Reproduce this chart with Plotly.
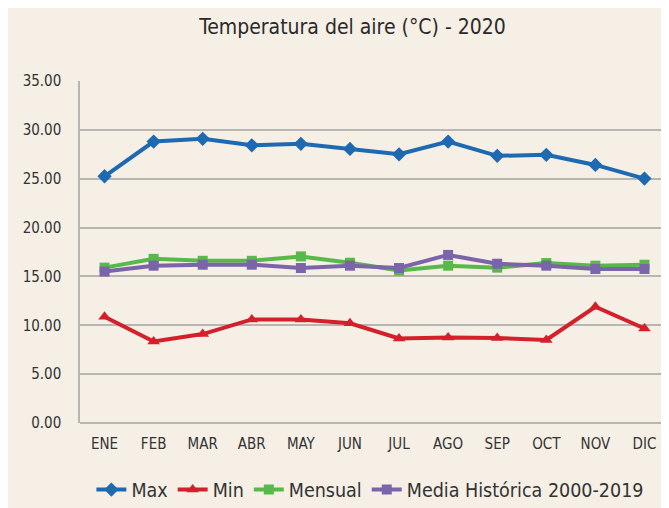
import plotly.graph_objects as go

MESES = ["ENE", "FEB", "MAR", "ABR", "MAY", "JUN", "JUL", "AGO", "SEP", "OCT", "NOV", "DIC"]

t_max = [25.25, 28.8, 29.08, 28.42, 28.57, 28.05, 27.5, 28.8, 27.34, 27.44, 26.41, 25.01]
t_min = [10.87, 8.34, 9.1, 10.6, 10.6, 10.2, 8.65, 8.75, 8.7, 8.5, 11.9, 9.67]
t_mensual = [15.9, 16.8, 16.6, 16.6, 17.05, 16.4, 15.6, 16.1, 15.9, 16.37, 16.1, 16.2]
t_historica = [15.5, 16.1, 16.2, 16.2, 15.86, 16.1, 15.86, 17.2, 16.3, 16.1, 15.76, 15.76]

FONT = "DejaVu Sans Condensed, Liberation Sans Narrow, sans-serif"
BG = "#f5efe6"
GRID = "#b8b6b2"

series = [
    ("Max", t_max, "#1d6ab3", "diamond", 11),
    ("Min", t_min, "#d3202b", "triangle-up", 11),
    ("Mensual", t_mensual, "#56b949", "square", 10),
    ("Media Histórica 2000-2019", t_historica, "#7b64aa", "square", 10),
]

fig = go.Figure()
for name, vals, color, symbol, size in series:
    fig.add_trace(go.Scatter(
        x=MESES, y=vals, name=name,
        mode="lines+markers",
        line=dict(color=color, width=4),
        marker=dict(symbol=symbol, size=size, color=color),
    ))

# page body has an 8px default margin, so margins are shifted to compensate
fig.update_layout(
    width=669, height=508,
    paper_bgcolor=BG, plot_bgcolor=BG,
    font=dict(family=FONT, color="#333333", size=15),
    title=dict(text="Temperatura del aire (°C) - 2020", x=0.515, xanchor="center",
               y=0.963, yanchor="middle", font=dict(size=21, color="#2a2a2a")),
    margin=dict(l=72, r=8, t=73, b=92),
    showlegend=True,
    legend=dict(orientation="h", x=0.493, xanchor="center", y=-0.192, yanchor="middle",
                font=dict(size=19.5, color="#333333"), bgcolor="rgba(0,0,0,0)",
                itemwidth=30, tracegroupgap=0),
    xaxis=dict(range=[-0.5, 11.5], showgrid=False, ticks="", showline=False,
               tickfont=dict(size=15), ticklabelstandoff=10),
    yaxis=dict(range=[0, 35], dtick=5, tickformat=".2f", showgrid=True,
               gridcolor=GRID, gridwidth=1.5, zeroline=True, zerolinecolor=GRID,
               zerolinewidth=1.5, showline=True, linecolor=GRID, linewidth=1.5,
               ticks="", tickfont=dict(size=15), ticklabelstandoff=14,
               automargin=False),
)

fig.write_html("out.html")
